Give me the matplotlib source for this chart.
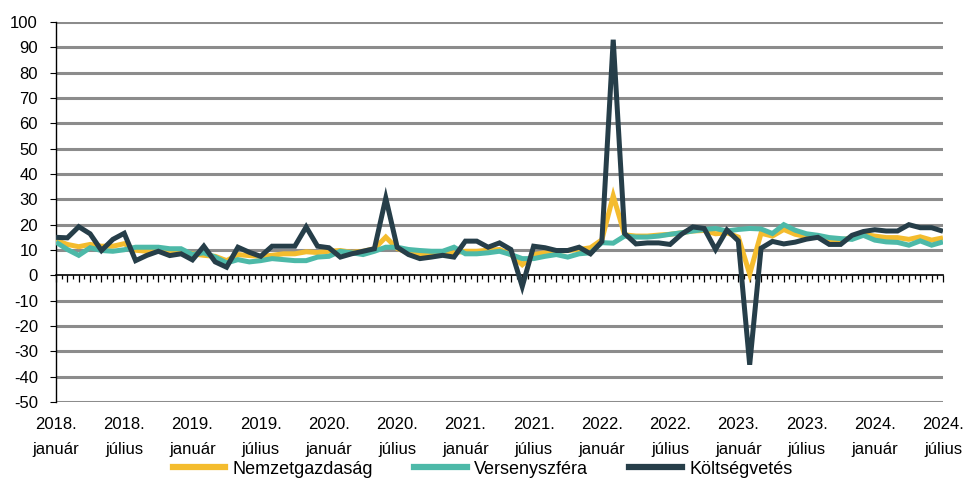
import matplotlib
matplotlib.use("Agg")
import matplotlib.pyplot as plt
from matplotlib.lines import Line2D
from matplotlib import font_manager
import numpy as np

# Monthly series, 2018 January .. 2024 July
months = 79
nemzetgazdasag = [13.8, 12.2, 11.3, 12.2, 11.5, 11.5, 12.5, 9.9, 9.5, 10.2, 9.8, 9.5,
                  8.5, 7.9, 7.5, 5.8, 8.2, 7.8, 7.5, 7.9, 8.5, 8.5, 9.3, 9.0,
                  9.5, 9.8, 9.1, 9.5, 10.5, 15.1, 10.6, 8.9, 8.2, 7.9, 8.2, 8.9,
                  9.5, 9.5, 9.9, 10.2, 8.2, 4.2, 8.2, 8.9, 9.5, 9.8, 10.2, 10.9,
                  14.0, 31.4, 16.0, 15.5, 15.5, 15.9, 16.2, 16.8, 17.5, 17.7, 16.4, 16.8,
                  15.1, 0.5, 16.6, 15.5, 18.1, 16.2, 15.3, 15.2, 13.8, 14.0, 14.8, 16.2,
                  15.5, 14.9, 14.9, 14.2, 15.2, 13.9, 14.8]
versenyszfera = [13.1, 10.2, 7.9, 10.9, 9.8, 9.5, 10.1, 11.1, 11.1, 11.1, 10.5, 10.5,
                 8.2, 8.9, 7.2, 4.9, 6.2, 5.3, 5.8, 6.6, 6.2, 5.8, 5.8, 7.2,
                 7.5, 9.5, 8.9, 8.2, 9.5, 11.1, 11.1, 10.2, 9.8, 9.5, 9.5, 11.1,
                 8.5, 8.5, 8.9, 9.5, 8.2, 6.6, 6.6, 7.5, 8.2, 7.2, 8.5, 8.9,
                 12.9, 12.7, 15.5, 15.1, 15.1, 15.5, 16.2, 16.8, 17.5, 18.1, 18.5, 17.5,
                 18.1, 18.5, 18.3, 16.5, 20.0, 17.8, 16.4, 15.8, 14.9, 14.5, 14.2, 15.8,
                 13.9, 13.2, 13.0, 11.9, 13.6, 11.9, 13.2]
koltsegvetes = [15.0, 14.8, 19.2, 16.4, 9.8, 14.2, 16.6, 5.8, 7.9, 9.5, 7.8, 8.5,
                6.1, 11.5, 5.3, 3.2, 11.1, 9.1, 7.5, 11.5, 11.5, 11.5, 19.1, 11.5,
                10.9, 7.2, 8.5, 9.5, 10.5, 30.5, 11.1, 8.2, 6.6, 7.2, 7.9, 7.2,
                13.5, 13.5, 11.1, 12.8, 10.2, -4.4, 11.5, 10.9, 9.8, 9.8, 11.1, 8.5,
                13.3, 93.0, 16.5, 12.4, 12.8, 12.8, 12.2, 16.2, 19.1, 18.5, 10.2, 17.9,
                13.6, -35.3, 10.7, 13.4, 12.4, 13.1, 14.3, 15.0, 12.2, 12.2, 15.8, 17.3,
                18.0, 17.5, 17.5, 20.0, 18.8, 18.8, 17.4]

series_names = ["Nemzetgazdaság", "Versenyszféra", "Költségvetés"]
series_colors = ["#F4BC2E", "#4DB9A8", "#263E49"]

label_years = ["2018.", "2018.", "2019.", "2019.", "2020.", "2020.", "2021.",
               "2021.", "2022.", "2022.", "2023.", "2023.", "2024.", "2024."]
label_months = ["január", "július"] * 7

y_ticks = list(range(-50, 101, 10))

# Font: narrow sans if available
available = {f.name for f in font_manager.fontManager.ttflist}
family = ["Liberation Sans Narrow", "DejaVu Sans"] if "Liberation Sans Narrow" in available \
    else ["Liberation Sans", "DejaVu Sans"]
plt.rcParams["font.family"] = family

fig = plt.figure(figsize=(9.65, 4.79), dpi=100)
ax = fig.add_axes([56 / 965, 1 - 402 / 479, (943 - 56) / 965, 380 / 479])

x = np.arange(months)
for vals, name, col in zip([nemzetgazdasag, versenyszfera, koltsegvetes],
                           series_names, series_colors):
    ax.plot(x, vals, color=col, lw=3.6, solid_joinstyle="miter",
            solid_capstyle="butt", label=name, zorder=3)

ax.set_xlim(0, months - 1)
ax.set_ylim(-50, 100)
ax.set_yticks(y_ticks)
ax.set_yticklabels([str(v) for v in y_ticks], fontsize=12)
ax.tick_params(axis="y", direction="out", length=4, width=0.8, pad=9, colors="black")

# horizontal grid
for v in y_ticks:
    if v != 0:
        ax.axhline(v, color="#8C8C8C", lw=2.2, zorder=1)

for s in ["top", "right"]:
    ax.spines[s].set_visible(False)
ax.spines["left"].set_linewidth(1.0)
ax.spines["bottom"].set_position(("data", 0))
ax.spines["bottom"].set_linewidth(1.2)
ax.spines["bottom"].set_zorder(2)

# month ticks along the zero line
ax.set_xticks(np.arange(0, months, 1.0))
ax.set_xticks(np.arange(0.5, months - 1, 1.0), minor=True)
ax.tick_params(axis="x", which="major", direction="out", length=5, width=0.9, labelbottom=False)
ax.tick_params(axis="x", which="minor", direction="out", length=3, width=0.9, labelbottom=False)

# category labels every six months, below the plot area
trans = ax.get_xaxis_transform()
for k, (yr, mo) in enumerate(zip(label_years, label_months)):
    ax.text(k * 6, -0.04, yr + "\n" + mo, transform=trans, ha="center", va="top",
            fontsize=12, linespacing=1.85, clip_on=False)

handles = [Line2D([0], [0], color=c, lw=4.5) for c in series_colors]
fig.legend(handles, series_names, loc="center", bbox_to_anchor=(0.5, 1 - 469 / 479),
           ncol=3, frameon=False, fontsize=13, handlelength=2.9, handletextpad=0.4,
           columnspacing=2.3)

fig.savefig("out.png", dpi=100)
